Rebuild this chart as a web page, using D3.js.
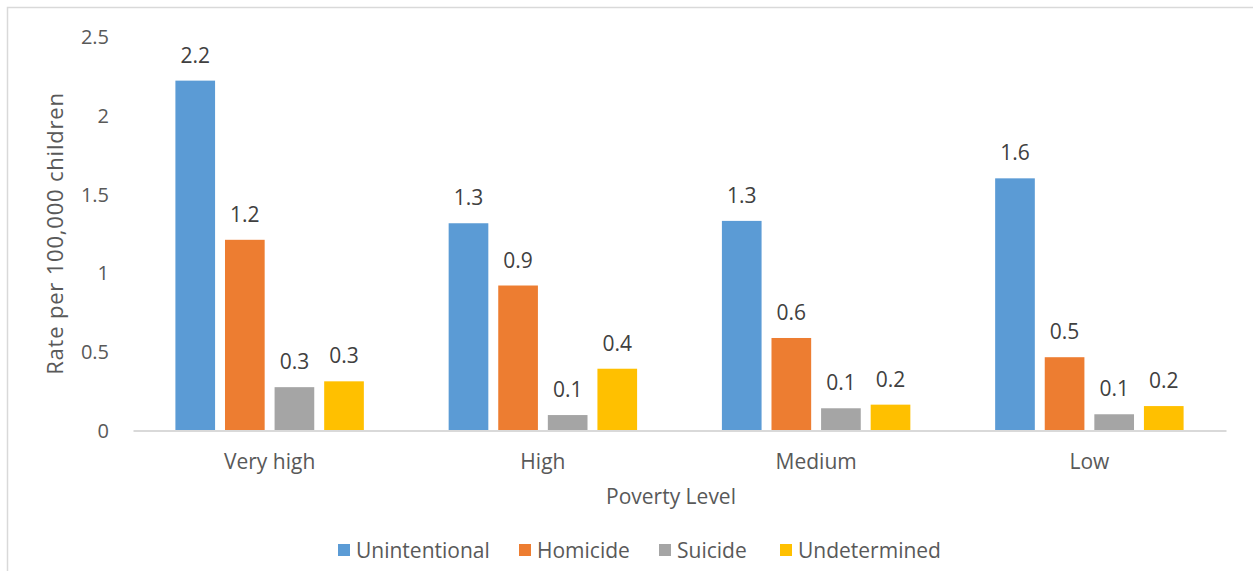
<!DOCTYPE html>
<html>
<head>
<meta charset="utf-8">
<script src="https://cdn.jsdelivr.net/npm/d3@7"></script>
<style>
  html, body { margin: 0; padding: 0; background: #fff; }
  svg { display: block; }
  text { font-family: "Open Sans", "Noto Sans", sans-serif; }
</style>
</head>
<body>
<svg id="chart" width="1253" height="571"></svg>
<script>
// Poverty levels along the x axis
const categories = ["Very high", "High", "Medium", "Low"];
// Injury intent series
const seriesNames = ["Unintentional", "Homicide", "Suicide", "Undetermined"];
const seriesColors = ["#5B9BD5", "#ED7D31", "#A5A5A5", "#FFC000"];
// Rate per 100,000 children, one array per series (in category order)
const unintentional = [2.22, 1.315, 1.33, 1.60];
const homicide      = [1.21, 0.92, 0.587, 0.465];
const suicide       = [0.275, 0.098, 0.141, 0.103];
const undetermined  = [0.312, 0.392, 0.164, 0.155];
// Y axis ticks
const yTicks = [0, 0.5, 1, 1.5, 2, 2.5];

const seriesValues = [unintentional, homicide, suicide, undetermined];

const svg = d3.select("#chart");
const W = 1253, H = 571;

// Outer chart frame
svg.append("rect")
  .attr("x", 7.5).attr("y", 7.5)
  .attr("width", W + 20).attr("height", H + 20)
  .attr("fill", "#fff")
  .attr("stroke", "#d9d9d9").attr("stroke-width", 1.5);

const plot = { left: 133, right: 1226, top: 36.5, bottom: 430.5 };

const x = d3.scaleBand()
  .domain(categories)
  .range([plot.left, plot.right])
  .padding(0);

const xInner = d3.scaleBand()
  .domain(seriesNames)
  .range([0, x.bandwidth()])
  .paddingInner(0.2)
  .paddingOuter(0.855);

const y = d3.scaleLinear()
  .domain([0, 2.5])
  .range([plot.bottom, plot.top]);

// Y tick labels (no axis line, no gridlines)
const yAxis = d3.axisLeft(y)
  .tickValues(yTicks)
  .tickSize(0)
  .tickPadding(0)
  .tickFormat(d3.format("~g"));

const yg = svg.append("g")
  .attr("transform", `translate(109,0)`)
  .call(yAxis);
yg.select(".domain").remove();
yg.selectAll("text")
  .attr("x", 0)
  .attr("dy", "0.35em")
  .style("font-size", "20px")
  .attr("fill", "#595959")
  .attr("font-family", "Open Sans");

// Bars
const groups = svg.append("g").selectAll("g")
  .data(categories)
  .join("g")
  .attr("transform", d => `translate(${x(d)},0)`);

const fmt = d3.format(".1f");

groups.each(function(cat, ci) {
  const g = d3.select(this);
  const rows = seriesNames.map((s, si) => ({ s, si, v: seriesValues[si][ci] }));
  g.selectAll("rect")
    .data(rows)
    .join("rect")
    .attr("x", d => xInner(d.s))
    .attr("y", d => y(d.v))
    .attr("width", xInner.bandwidth())
    .attr("height", d => y(0) - y(d.v))
    .attr("fill", d => seriesColors[d.si]);
  g.selectAll("text.val")
    .data(rows)
    .join("text")
    .attr("class", "val")
    .attr("x", d => xInner(d.s) + xInner.bandwidth() / 2)
    .attr("y", d => y(d.v) - 18)
    .attr("text-anchor", "middle")
    .attr("fill", "#404040")
    .style("font-size", "21px")
    .text(d => fmt(d.v));
});

// X axis line and category labels
const xAxis = d3.axisBottom(x).tickSize(0).tickPadding(0);
const xg = svg.append("g")
  .attr("transform", `translate(0,${plot.bottom})`)
  .call(xAxis);
xg.select(".domain")
  .attr("stroke", "#d9d9d9")
  .attr("stroke-width", 2);
xg.selectAll("text")
  .attr("y", 38)
  .attr("dy", 0)
  .style("font-size", "21px")
  .attr("fill", "#595959")
  .attr("font-family", "Open Sans");

// Axis titles
svg.append("text")
  .attr("x", 671).attr("y", 504)
  .attr("text-anchor", "middle")
  .attr("fill", "#595959")
  .style("font-size", "21px")
  .text("Poverty Level");

svg.append("text")
  .attr("transform", `translate(63,${(plot.top + plot.bottom) / 2}) rotate(-90)`)
  .attr("text-anchor", "middle")
  .attr("fill", "#595959")
  .style("font-size", "22px")
  .style("letter-spacing", "0.8px")
  .text("Rate per 100,000 children");

// Legend
const legendX = [338, 519, 659, 780];
const legend = svg.append("g").selectAll("g")
  .data(seriesNames)
  .join("g")
  .attr("transform", (d, i) => `translate(${legendX[i]},544)`);
legend.append("rect")
  .attr("width", 12).attr("height", 12)
  .attr("fill", (d, i) => seriesColors[i]);
legend.append("text")
  .attr("x", 18).attr("y", 13.5)
  .attr("fill", "#595959")
  .style("font-size", "21px")
  .text(d => d);
</script>
</body>
</html>
